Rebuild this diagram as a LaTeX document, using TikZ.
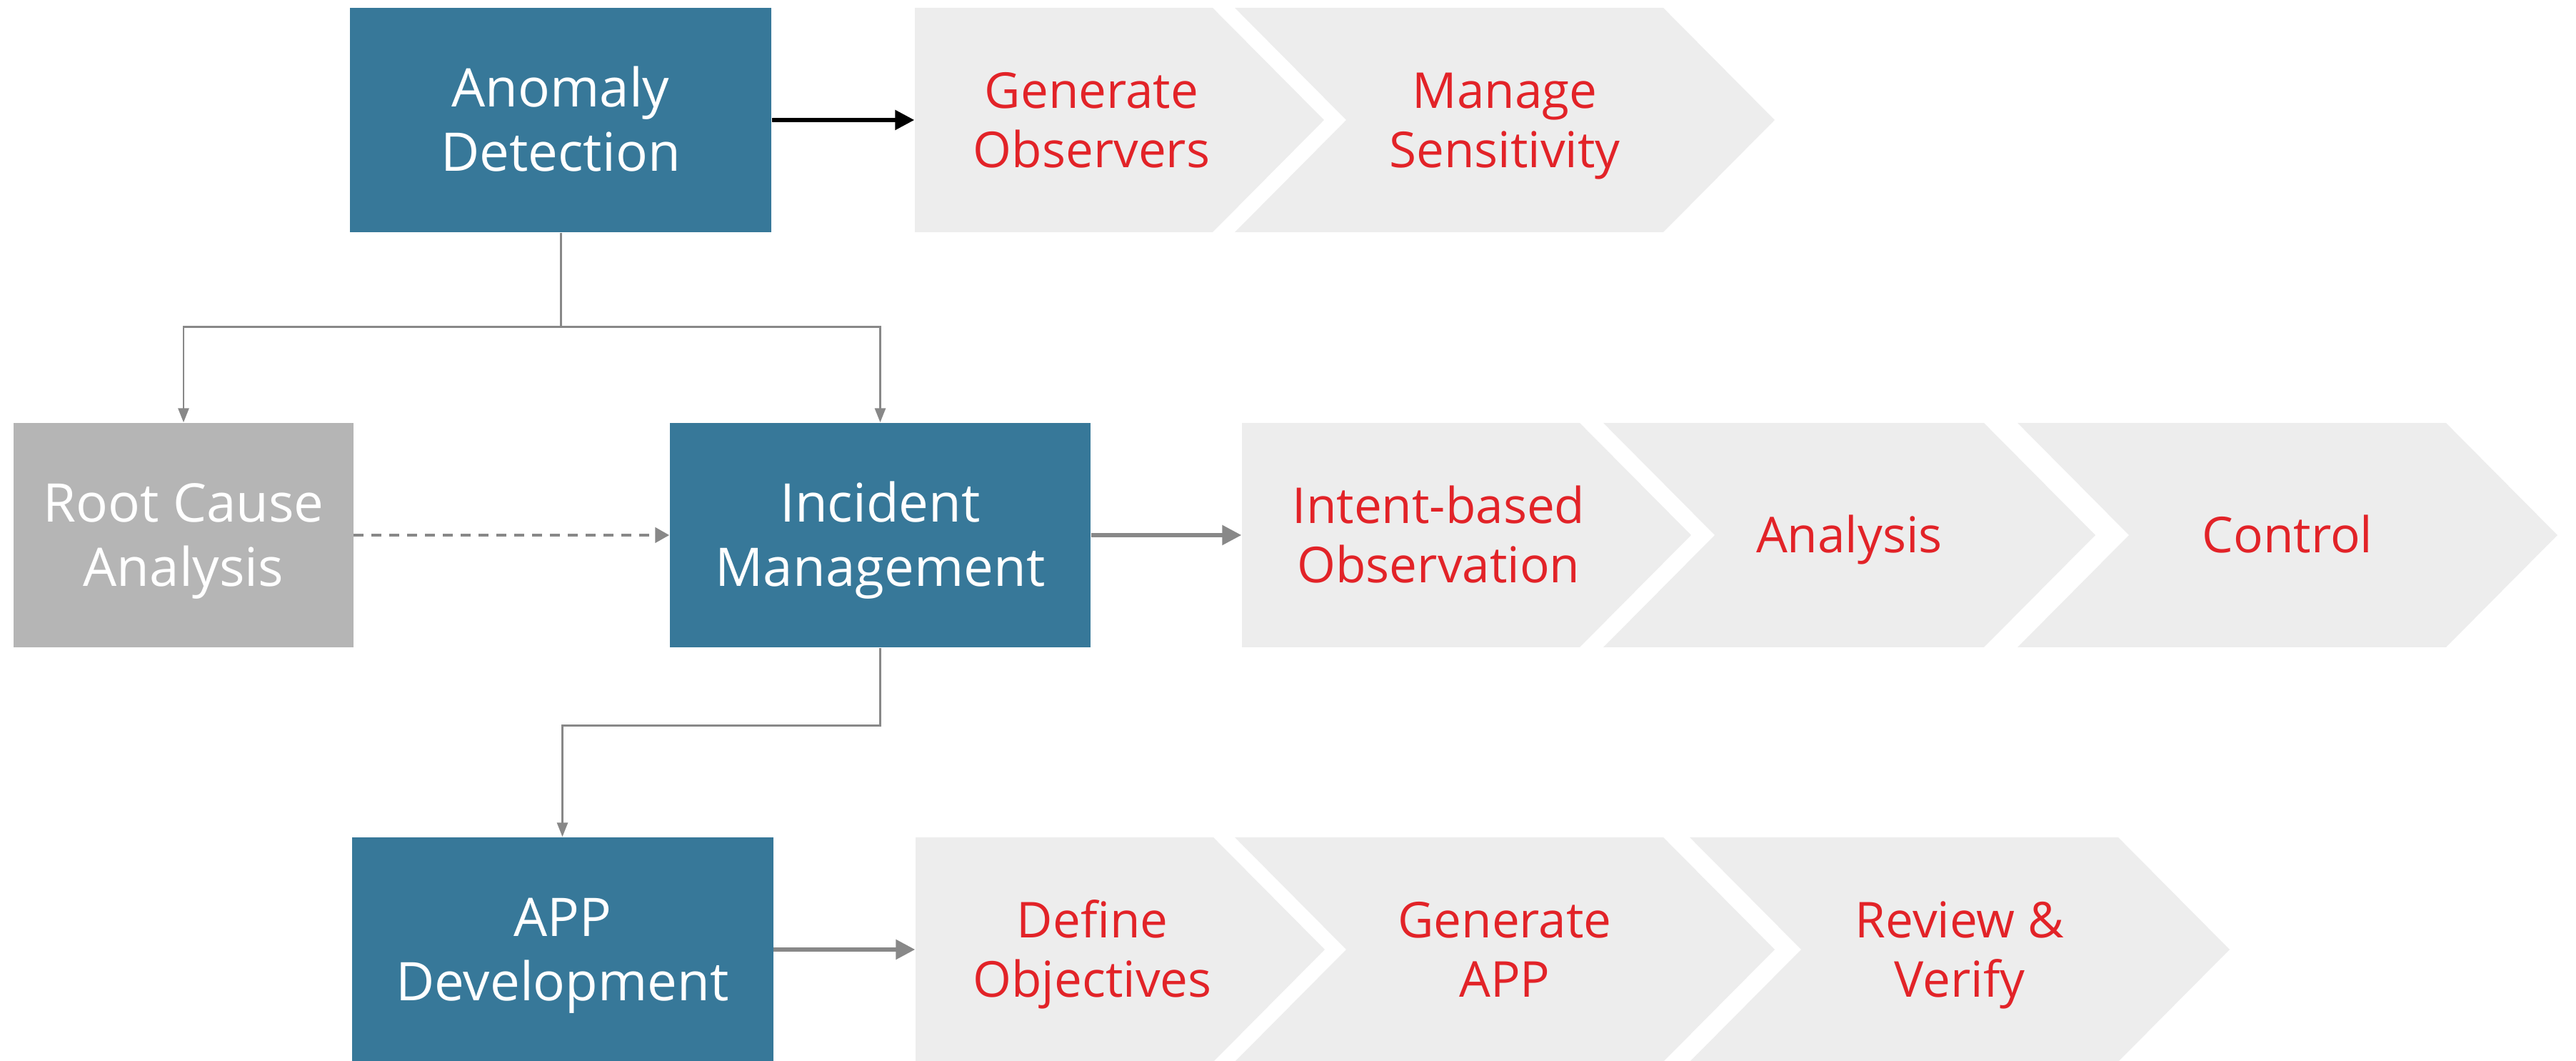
\documentclass[tikz,border=0pt]{standalone}
\usepackage{fontspec}
\setmainfont{Open Sans}
\usepackage{tikz}
\usetikzlibrary{arrows.meta, calc}
\definecolor{boxblue}{RGB}{55, 120, 153}
\definecolor{boxgray}{RGB}{181, 181, 181}
\definecolor{stagegray}{RGB}{237, 237, 237}
\definecolor{stagered}{RGB}{226, 35, 40}
\definecolor{linegray}{RGB}{136, 136, 136}

\newcommand{\hstrut}{\rule{0pt}{\dimexpr0.714em+0.3\baselineskip\relax}}
\newcommand{\dstrut}{\rule[-0.3\baselineskip]{0pt}{0.3\baselineskip}}
\newcommand{\lbl}[1]{\hstrut#1\dstrut}

\tikzset{
  block/.style={fill=boxblue, text=white, minimum width=5.9cm, minimum height=3.14cm, align=center, inner sep=0pt,
    font=\fontsize{21.2}{25.6}\selectfont},
  stagetext/.style={text=stagered, align=center, inner sep=0pt, minimum height=3.14cm,
    font=\fontsize{19.7}{23.6}\selectfont},
  link/.style={draw=linegray, line width=0.85pt, -{Triangle[length=2mm, width=1.5mm]}},
  flow/.style={line width=1.6pt, -{Triangle[length=2.7mm, width=2.7mm]}}
}

\newcommand{\stageflat}[5]{%
  \fill[stagegray] (#2,#4+1.57) -- (#3,#4+1.57) -- (#3+1.56,#4) -- (#3,#4-1.57) -- (#2,#4-1.57) -- cycle;
  \node[stagetext, minimum width={(#3+0.78-#2)*1cm}] (#1) at ({(#2+#3+0.78)/2},#4) {\lbl{#5}};
}
\newcommand{\stagenotch}[5]{%
  \fill[stagegray] (#2,#4+1.57) -- (#3,#4+1.57) -- (#3+1.56,#4) -- (#3,#4-1.57) -- (#2,#4-1.57) -- (#2+1.56,#4) -- cycle;
  \node[stagetext] (#1) at ({(#2+#3)/2+0.78},#4) {\lbl{#5}};
}

\begin{document}
\begin{tikzpicture}
  \useasboundingbox (0, 0) rectangle (36.07, 14.85);

  \node[block] (ad) at (7.85, 13.17) {\lbl{Anomaly\\Detection}};
  \node[block, fill=boxgray, minimum width=4.755cm] (rca) at (2.57, 7.36) {\lbl{Root Cause\\Analysis}};
  \node[block, minimum width=5.89cm] (im) at (12.325, 7.36) {\lbl{Incident\\Management}};
  \node[block] (app) at (7.875, 1.56) {\lbl{APP\\Development}};

  \stageflat{obs}{12.81}{16.98}{13.17}{Generate\\Observers}
  \stagenotch{sens}{17.29}{23.29}{13.17}{Manage\\Sensitivity}

  \stageflat{intent}{17.39}{22.12}{7.36}{Intent-based\\Observation}
  \stagenotch{anl}{22.45}{27.78}{7.36}{Analysis}
  \stagenotch{ctrl}{28.25}{34.25}{7.36}{Control}

  \stageflat{obj}{12.82}{16.99}{1.56}{Define\\Objectives}
  \stagenotch{gen}{17.29}{23.29}{1.56}{Generate\\APP}
  \stagenotch{rev}{23.66}{29.66}{1.56}{Review \&\\Verify}

  \coordinate (split) at ($(ad.south)+(0, -1.32)$);
  \draw[link] (ad.south) -- (split) -| (rca.north);
  \draw[link] (split) -| (im.north);
  \draw[link] (im.south) -- ++(0, -1.09) -| (app.north);
  \draw[link, line width=1.3pt, dash pattern=on 0.14cm off 0.11cm, -{Triangle[length=2mm, width=2.1mm]}] (rca) -- (im);

  \draw[flow] (ad) -- (obs);
  \draw[flow, linegray] (im) -- (intent);
  \draw[flow, linegray] (app) -- (obj);
\end{tikzpicture}
\end{document}
